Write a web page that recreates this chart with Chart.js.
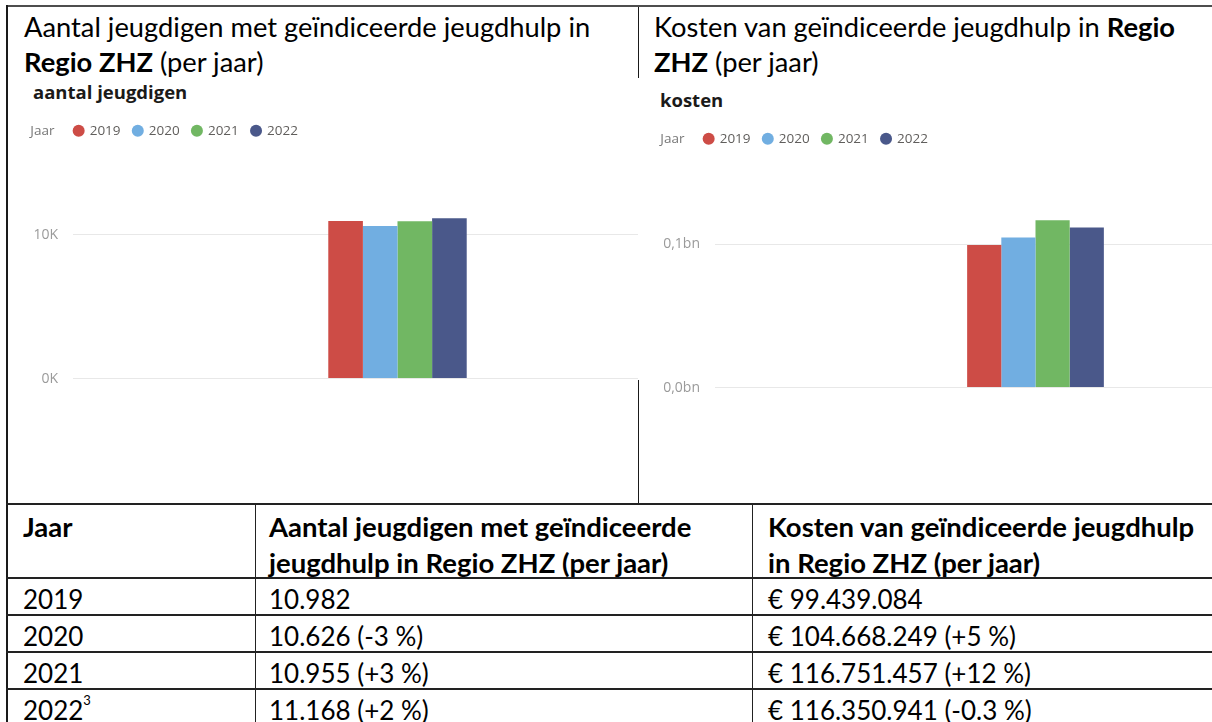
<!DOCTYPE html>
<html lang="nl">
<head>
<meta charset="utf-8">
<title>Jeugdhulp Regio ZHZ</title>
<script src="https://cdn.jsdelivr.net/npm/chart.js@4.4.1/dist/chart.umd.min.js"></script>
<style>
  html, body { margin: 0; padding: 0; background: #fff; }
  body { width: 1212px; height: 722px; position: relative; overflow: hidden; font-family: Lato, "Open Sans", sans-serif; color: #000; }
  .abs { position: absolute; }
  .line { position: absolute; background: #1a1a1a; }
  .clip { position: absolute; overflow: hidden; }
  .heading { position: absolute; font-size: 27.3px; line-height: 35px; white-space: nowrap; }
  .subtitle { position: absolute; font-family: "Open Sans", sans-serif; font-weight: 700; font-size: 18.5px; line-height: 22px; color: #1b1a19; white-space: nowrap; }
  .cell { position: absolute; font-size: 26px; line-height: 36px; white-space: nowrap; }
  .cell.head { font-weight: 700; font-size: 27.5px; }
  sup { font-size: 13px; vertical-align: 15px; line-height: 0; }
</style>
</head>
<body>

<!-- kaders -->
<div class="line" style="left:6px; top:5px; width:1206px; height:2px; background:#4d4d4d"></div>
<div class="line" style="left:6px; top:5px; width:2px; height:717px"></div>
<div class="line" style="left:638px; top:7px; width:1px; height:71px"></div>
<div class="line" style="left:638px; top:380px; width:1px; height:124px"></div>

<!-- koppen -->
<div class="heading" style="left:24px; top:9px">Aantal jeugdigen met geïndiceerde jeugdhulp in<br><b>Regio ZHZ</b> (per jaar)</div>
<div class="heading" style="left:654px; top:9px">Kosten van geïndiceerde jeugdhulp in <b>Regio</b><br><b>ZHZ</b> (per jaar)</div>

<div class="clip" style="left:8px; top:78px; width:630px; height:420px">
  <div class="subtitle" style="left:25px; top:3px">aantal jeugdigen</div>
  <div class="abs" style="left:-8px; top:33px; width:722px; height:291px"><canvas id="chartCount"></canvas></div>
</div>
<div class="clip" style="left:639px; top:78px; width:573px; height:420px">
  <div class="subtitle" style="left:21px; top:11px">kosten</div>
  <div class="abs" style="left:-9px; top:41px; width:726px; height:292px"><canvas id="chartCost"></canvas></div>
</div>

<div id="table"></div>

<script>
// Jaren en waarden
const years = ['2019', '2020', '2021', '2022'];
const yearColors = ['#cd4c46', '#71aee1', '#71b763', '#4a588a'];

const countValues = [10982, 10626, 10955, 11168];
const countTicks = [0, 10000];
const countTickLabels = ['0K', '10K'];

// kosten zoals de staven in de grafiek ze tonen
const costValues = [99439084, 104668249, 116751457, 111700000];
const costTicks = [0, 100000000];
const costTickLabels = ['0,0bn', '0,1bn'];

// tabel
const tableYears = ['2019', '2020', '2021', '2022'];
const tableCounts = ['10.982', '10.626 (-3 %)', '10.955 (+3 %)', '11.168 (+2 %)'];
const tableCosts = ['€ 99.439.084', '€ 104.668.249 (+5 %)', '€ 116.751.457 (+12 %)', '€ 116.350.941 (-0.3 %)'];

// Maak een staafgrafiek met een enkele groep
function makeBarChart(id, values, ticks, tickLabels, axisWidth, targetY) {
    const ctx = document.getElementById(id);
    const chart = new Chart(ctx, {
        type: 'bar',
        data: {
            labels: [''],
            datasets: years.map((y, i) => ({
                label: y,
                data: [values[i]],
                backgroundColor: yearColors[i],
                borderWidth: 0
            }))
        },
        options: {
            responsive: true,
            maintainAspectRatio: false,
            animation: false,
            layout: { padding: { left: 2, right: 0, top: 0, bottom: 10 } },
            datasets: { bar: { categoryPercentage: 0.2133, barPercentage: 1.0 } },
            scales: {
                x: { display: false },
                y: {
                    min: 0,
                    max: ticks[1] * 1.6,
                    border: { display: false },
                    grid: { color: '#e8e8e8', lineWidth: 1, drawTicks: false },
                    afterFit: axis => { axis.width = axisWidth; },
                    afterBuildTicks: axis => { axis.ticks = ticks.map(v => ({ value: v })); },
                    ticks: {
                        padding: 15,
                        color: '#9a9a9a',
                        font: { family: '"Open Sans", sans-serif', size: 14 },
                        callback: v => tickLabels[ticks.indexOf(v)]
                    }
                }
            },
            plugins: {
                tooltip: { enabled: false },
                legend: {
                    position: 'top',
                    align: 'start',
                    labels: {
                        usePointStyle: true,
                        pointStyle: 'circle',
                        boxWidth: 8.5,
                        boxHeight: 8.5,
                        padding: 13,
                        color: '#605e5c',
                        font: { family: '"Open Sans", sans-serif', size: 13.5 },
                        generateLabels: c => {
                            const items = Chart.defaults.plugins.legend.labels.generateLabels(c)
                                .map(it => ({ ...it, strokeStyle: it.fillStyle, lineWidth: 0 }));
                            items.unshift({
                                text: 'Jaar  ',
                                fillStyle: 'rgba(0,0,0,0)',
                                strokeStyle: 'rgba(0,0,0,0)',
                                lineWidth: 0,
                                pointStyle: 'circle',
                                hidden: false,
                                fontColor: '#777'
                            });
                            return items;
                        }
                    }
                }
            }
        }
    });

    // schaal zo zetten dat de bovenste rasterlijn op de goede hoogte valt
    const area = chart.chartArea;
    chart.options.scales.y.max = ticks[1] * (area.bottom - area.top) / (area.bottom - targetY);
    chart.update('none');
    return chart;
}

makeBarChart('chartCount', countValues, countTicks, countTickLabels, 71, 124);
makeBarChart('chartCost', costValues, costTicks, costTickLabels, 83, 125.3);

// Tabel onder de grafieken
function buildTable() {
    const root = document.getElementById('table');
    const hLines = [504, 578, 615, 652, 689];
    const vLines = [255, 752];
    const colX = [23, 269, 768];
    let html = '';
    hLines.forEach(y => {
        html += `<div class="line" style="left:6px; top:${y - 1}px; width:1206px; height:2px; background:#222"></div>`;
    });
    vLines.forEach(x => {
        html += `<div class="line" style="left:${x}px; top:504px; width:1px; height:218px; background:#222"></div>`;
    });
    // kop
    const head = ['Jaar', 'Aantal jeugdigen met geïndiceerde<br>jeugdhulp in Regio ZHZ (per jaar)', 'Kosten van geïndiceerde jeugdhulp<br>in Regio ZHZ (per jaar)'];
    head.forEach((t, i) => {
        html += `<div class="cell head" style="left:${colX[i]}px; top:509px">${t}</div>`;
    });
    tableYears.forEach((y, r) => {
        const top = hLines[r + 1] + 21 - 18;
        const yearText = r === tableYears.length - 1 ? y + '<sup>3</sup>' : y;
        html += `<div class="cell" style="left:${colX[0]}px; top:${top}px">${yearText}</div>`;
        html += `<div class="cell" style="left:${colX[1]}px; top:${top}px">${tableCounts[r]}</div>`;
        html += `<div class="cell" style="left:${colX[2]}px; top:${top}px">${tableCosts[r]}</div>`;
    });
    root.innerHTML = html;
}

buildTable();
</script>
</body>
</html>
